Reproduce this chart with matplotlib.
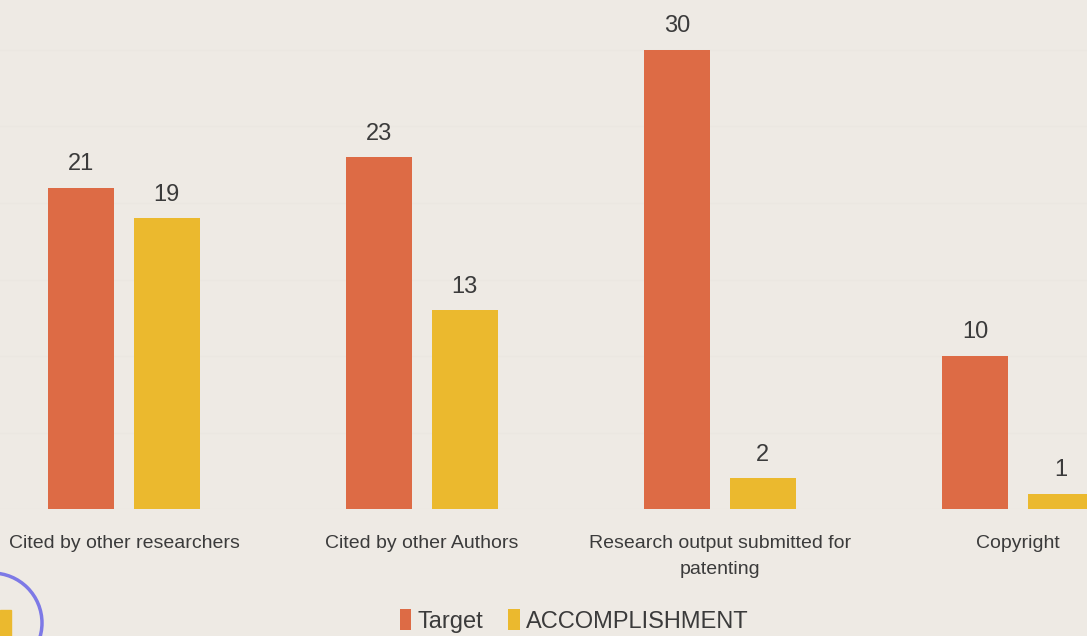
import matplotlib.pyplot as plt
import matplotlib.patches as mpatches
import numpy as np

# chart data
categories = ["Cited by other researchers", "Cited by other Authors",
              "Research output submitted for\npatenting", "Copyright"]
target = [21, 23, 30, 10]
accomplishment = [19, 13, 2, 1]

bg = "#eeeae4"
orange = "#dd6b45"
yellow = "#ebb92e"
text_color = "#3b3b3b"

plt.rcParams['font.family'] = ['Liberation Sans', 'DejaVu Sans']

fig = plt.figure(figsize=(10.87, 6.36), dpi=100, facecolor=bg)
# axes spans the full width (chart is cropped at both sides)
ax = fig.add_axes([0, 127 / 636, 1, 509 / 636], facecolor=bg)

x = np.arange(len(categories))
w = 0.2215
off = 0.1428
b1 = ax.bar(x - off, target, w, color=orange, label="Target", zorder=3)
b2 = ax.bar(x + off, accomplishment, w, color=yellow, label="ACCOMPLISHMENT", zorder=3)

for bars in (b1, b2):
    for rect in bars:
        h = rect.get_height()
        ax.annotate(f"{h:g}", (rect.get_x() + rect.get_width() / 2, h),
                    xytext=(0, 9), textcoords="offset points",
                    ha="center", va="bottom", fontsize=17, color=text_color)

ax.set_xlim(-124 / 298, (1087 - 124) / 298)
ax.set_ylim(0, 509 / 15.3)
ax.set_yticks(np.arange(0, 35, 5))
ax.yaxis.grid(True, color="#ebe7e1", linewidth=1, zorder=0)
ax.tick_params(axis="y", left=False, labelleft=False)
ax.tick_params(axis="x", length=0, pad=19, labelsize=14, labelcolor=text_color)
ax.set_xticks(x)
ax.set_xticklabels(categories, linespacing=1.65)
for s in ax.spines.values():
    s.set_visible(False)

fig.legend(loc="lower center", bbox_to_anchor=(0.528, -0.028), ncol=2, frameon=False,
           fontsize=17, handlelength=0.5, handleheight=0.95, handletextpad=0.25,
           columnspacing=1.05, labelcolor=text_color)

# leftover decorations in the bottom-left corner of the screenshot
fig.patches.append(mpatches.Rectangle((0, 0), 11 / 1087, 26 / 636, transform=fig.transFigure,
                                      color=yellow, zorder=5))
fig.patches.append(mpatches.Ellipse((-8 / 1087, 13 / 636), 100 / 1087, 100 / 636,
                                    transform=fig.transFigure, fill=False,
                                    edgecolor="#7d79e6", linewidth=2.5, zorder=6))

fig.savefig("out.png", dpi=100, facecolor=bg)
